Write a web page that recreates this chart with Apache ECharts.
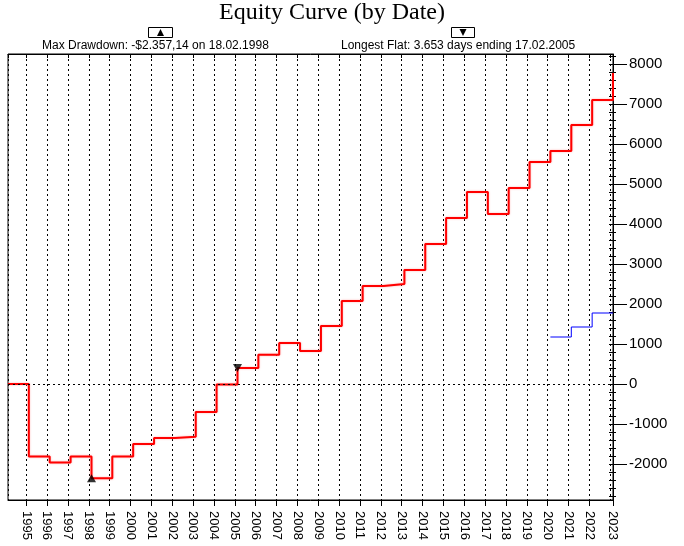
<!DOCTYPE html>
<html>
<head>
<meta charset="utf-8">
<script src="https://cdn.jsdelivr.net/npm/echarts@6/dist/echarts.min.js"></script>
<style>
  html, body { margin: 0; padding: 0; background: #fff; }
  #chart { width: 684px; height: 546px; }
</style>
</head>
<body>
<div id="chart"></div>
<script>
// ---- data ----
const tradeDates = ['1994-02-17','1995-02-17','1996-02-17','1997-02-17','1998-02-18','1999-02-17',
  '2000-02-17','2001-02-17','2002-02-17','2003-02-17','2004-02-17','2005-02-17','2006-02-17',
  '2007-02-17','2008-02-17','2009-02-17','2010-02-17','2011-02-17','2012-02-17','2013-02-17',
  '2014-02-17','2015-02-17','2016-02-17','2017-02-17','2018-02-17','2019-02-17','2020-02-17',
  '2021-02-17','2022-02-17','2023-02-17'];
const equity = [0, -1810, -1960, -1810, -2357.14, -1810, -1500, -1350, -1320, -700, -15, 400, 730,
  1025, 825, 1450, 2075, 2450, 2500, 2850, 3500, 4150, 4800, 4250, 4900, 5550, 5825, 6475, 7100, 7775];
const blueDates = ['2020-02-17','2021-02-17','2022-02-17','2023-02-17'];
const blueValues = [1175, 1425, 1775, 1775];
const markerDates = ['1998-02-18', '2005-02-17'];
const markerValues = [-2357.14, 400];
const yTickValues = [-2000,-1000,0,1000,2000,3000,4000,5000,6000,7000,8000];
const titleText = 'Equity Curve (by Date)';
const ddText = 'Max Drawdown: -$2.357,14 on 18.02.1998';
const flatText = 'Longest Flat: 3.653 days ending 17.02.2005';

const minorTicks = [];
for (let v = -2800; v <= 8200; v += 200) minorTicks.push(v);

const X_MIN = '1994-02-17', X_MAX = '2023-02-17';
const Y_MIN = -2900, Y_MAX = 8250;
const YEAR = 365.25 * 24 * 3600 * 1000;

const chart = echarts.init(document.getElementById('chart'), null, { renderer: 'canvas' });
const SANS = 'Liberation Sans, Arial, sans-serif';

const option = {
  animation: false,
  backgroundColor: '#ffffff',
  grid: { left: 8, right: 71, top: 54, bottom: 46, show: true, borderColor: '#000', borderWidth: 1, backgroundColor: 'transparent' },
  xAxis: [{
    type: 'time', min: X_MIN, max: X_MAX, position: 'bottom',
    minInterval: YEAR * 0.99, maxInterval: YEAR * 1.01, splitNumber: 29,
    axisLine: { show: true, onZero: false, lineStyle: { color: '#000', width: 1 } },
    axisTick: { show: true, length: 6, lineStyle: { color: '#000' } },
    axisLabel: {
      rotate: -90, margin: 11, color: '#000', fontFamily: SANS, fontSize: 13,
      hideOverlap: false, showMinLabel: false, showMaxLabel: true,
      formatter: v => String(new Date(v).getFullYear())
    },
    splitLine: { show: true, lineStyle: { color: '#000', type: [2, 3], width: 1 } }
  }, {
    type: 'time', min: X_MIN, max: X_MAX, position: 'top',
    minInterval: YEAR * 0.99, maxInterval: YEAR * 1.01, splitNumber: 29,
    axisLine: { show: true, onZero: false, lineStyle: { color: '#000', width: 1 } },
    axisTick: { show: true, inside: true, length: 4, lineStyle: { color: '#000' } },
    axisLabel: { show: false },
    splitLine: { show: false }
  }],
  yAxis: [{
    type: 'value', position: 'right', min: Y_MIN, max: Y_MAX,
    axisLine: { show: true, onZero: false, lineStyle: { color: '#000', width: 1 } },
    axisTick: { show: true, length: 14, customValues: yTickValues, lineStyle: { color: '#000' } },
    axisLabel: { margin: 16, color: '#000', fontFamily: SANS, fontSize: 15, customValues: yTickValues,
      formatter: v => String(v) },
    splitLine: { show: false }
  }, {
    type: 'value', position: 'right', min: Y_MIN, max: Y_MAX,
    axisLine: { show: false, onZero: false },
    axisTick: { show: true, length: 3, customValues: minorTicks, lineStyle: { color: '#000' } },
    axisLabel: { show: false, customValues: minorTicks },
    splitLine: { show: false }
  }, {
    type: 'value', position: 'right', min: Y_MIN, max: Y_MAX,
    axisLine: { show: false, onZero: false },
    axisTick: { show: true, inside: true, length: 4, customValues: minorTicks, lineStyle: { color: '#000' } },
    axisLabel: { show: false, customValues: minorTicks },
    splitLine: { show: false }
  }],
  series: [{
    name: 'Equity', type: 'line', step: 'end', showSymbol: false, symbol: 'none',
    data: tradeDates.map((d, i) => [d, equity[i]]),
    lineStyle: { color: '#ff0000', width: 2, shadowColor: 'rgba(255,120,120,0.6)', shadowBlur: 2 },
    z: 3,
    markLine: {
      silent: true, symbol: 'none', label: { show: false },
      lineStyle: { color: '#000', type: [2, 3], width: 1 },
      data: [{ yAxis: 0 }]
    }
  }, {
    name: 'Second', type: 'line', step: 'end', showSymbol: false, symbol: 'none',
    data: blueDates.map((d, i) => [d, blueValues[i]]),
    lineStyle: { color: '#0000ff', width: 1 }, z: 3
  }, {
    name: 'Markers', type: 'scatter', z: 4,
    data: markerDates.map((d, i) => ({
      value: [d, markerValues[i]], symbol: 'triangle', symbolRotate: i === 0 ? 0 : 180
    })),
    symbolSize: [9, 8],
    itemStyle: { color: '#000' }
  }],
  graphic: [
    { type: 'text', x: 332, y: 1, style: { text: titleText, font: '24px "Liberation Serif", "Times New Roman", serif', fill: '#000', align: 'center' } },
    { type: 'text', x: 42, y: 40, style: { text: ddText, font: '12px "Liberation Sans", Arial, sans-serif', fill: '#000' } },
    { type: 'text', x: 341, y: 40, style: { text: flatText, font: '12px "Liberation Sans", Arial, sans-serif', fill: '#000' } },
    { type: 'rect', shape: { x: 148.5, y: 27.5, width: 24, height: 10 }, style: { fill: '#fff', stroke: '#000', lineWidth: 1 } },
    { type: 'polygon', shape: { points: [[157, 36], [164, 36], [160.5, 29]] }, style: { fill: '#000' } },
    { type: 'rect', shape: { x: 451.5, y: 27.5, width: 23, height: 10 }, style: { fill: '#fff', stroke: '#000', lineWidth: 1 } },
    { type: 'polygon', shape: { points: [[459.5, 29], [466.5, 29], [463, 36]] }, style: { fill: '#000' } }
  ]
};
chart.setOption(option);
</script>
</body>
</html>
